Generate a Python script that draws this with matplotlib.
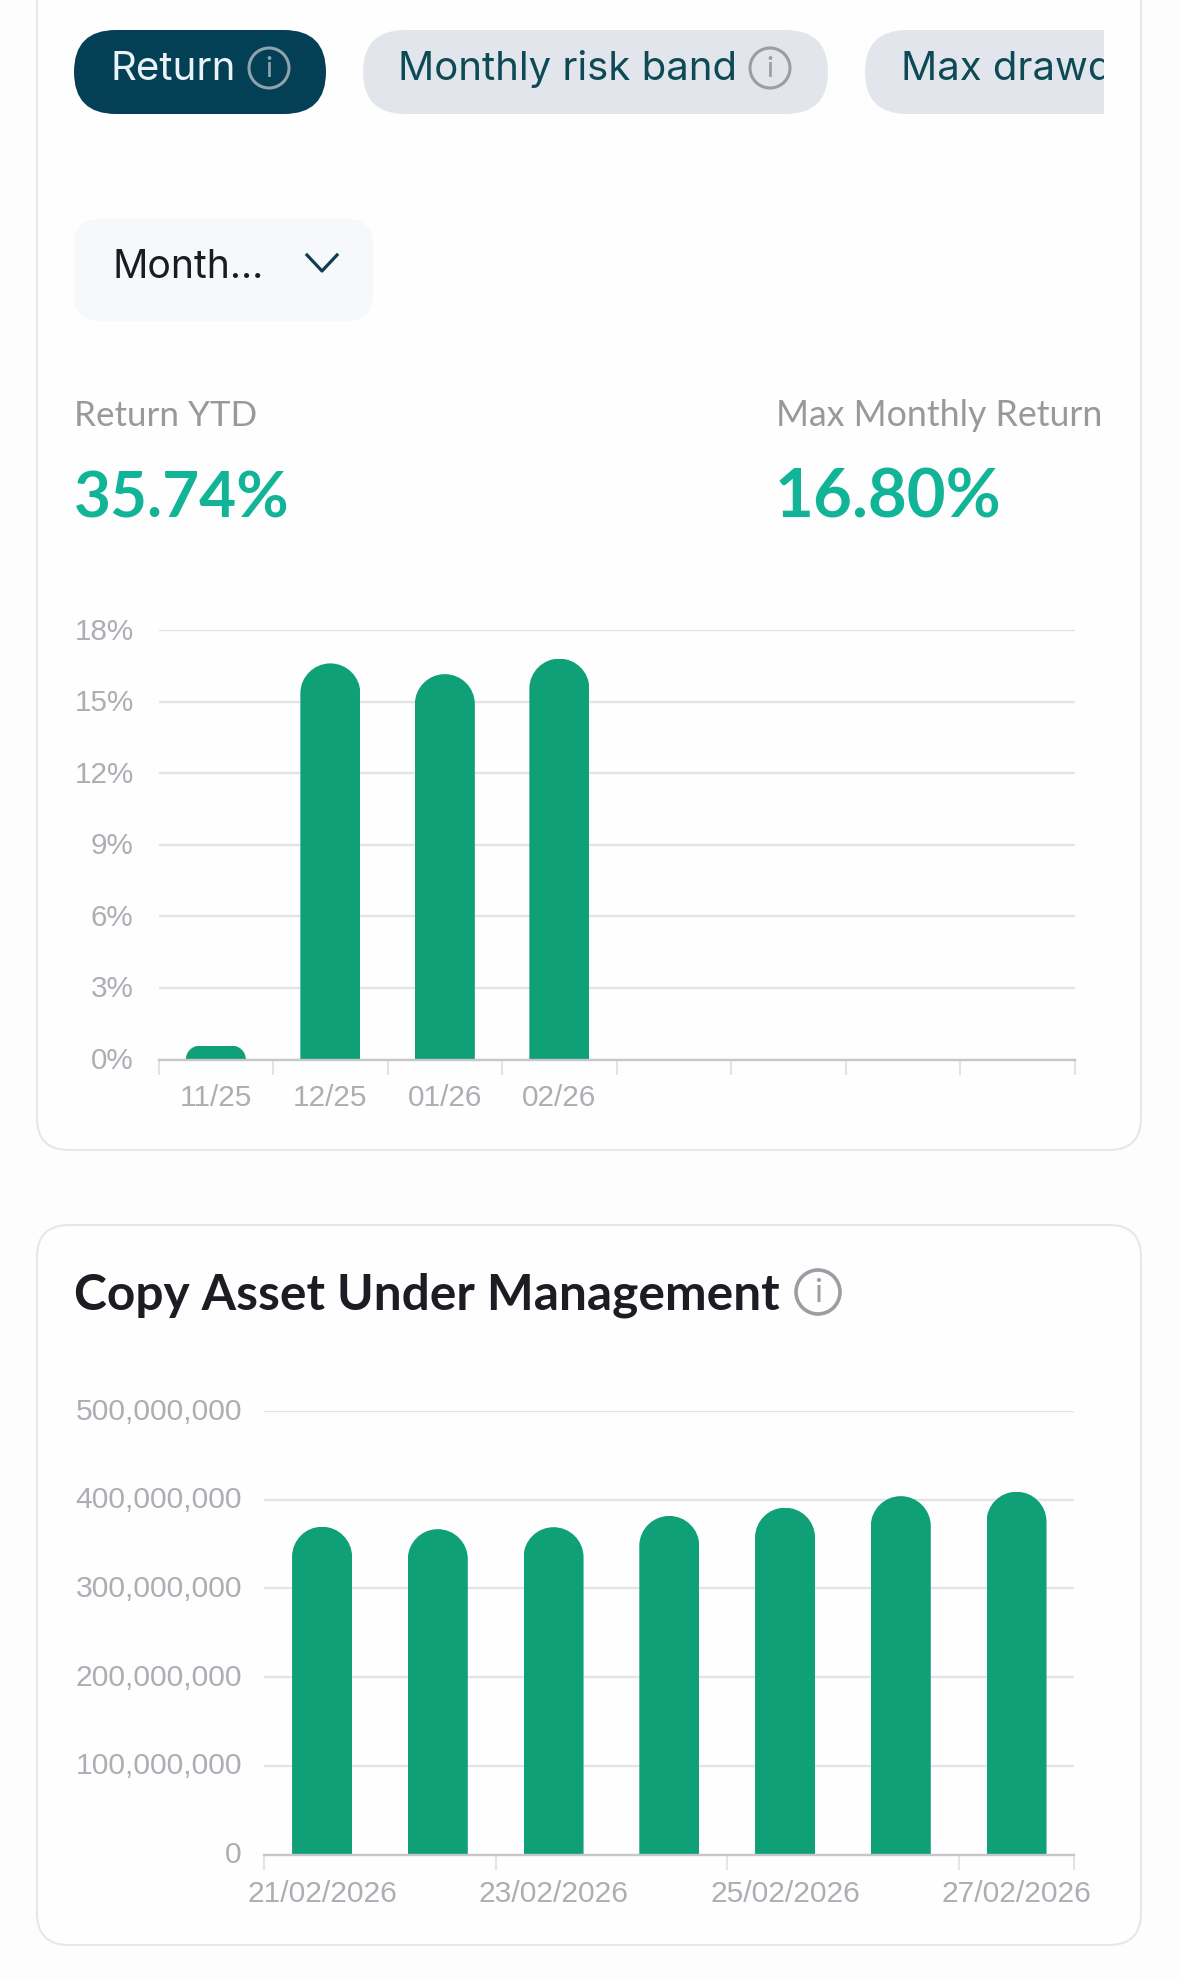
import matplotlib
matplotlib.use("Agg")
import matplotlib.pyplot as plt
from matplotlib.patches import Circle, FancyBboxPatch, Rectangle
from matplotlib.path import Path
from matplotlib.transforms import ScaledTranslation

W, H = 1178, 1982

# data
months = ["11/25", "12/25", "01/26", "02/26"]
monthly_return = [0.58, 16.60, 16.15, 16.80]
return_ticks = [0, 3, 6, 9, 12, 15, 18]
n_month_slots = 8

aum_days = ["21/02/2026", "22/02/2026", "23/02/2026", "24/02/2026",
            "25/02/2026", "26/02/2026", "27/02/2026"]
aum_values = [369.5e6, 366.8e6, 369.0e6, 381.7e6, 391.0e6, 404.0e6, 409.0e6]
aum_ticks = [0, 100e6, 200e6, 300e6, 400e6, 500e6]

GREEN = "#0fa078"
TEAL = "#12b497"
GRID = "#e4e4e8"
AXIS = "#c6c6cb"
TICK = "#aeadb3"
UI_FONT = "Lato"
PILL_FONT = "Inter"
AXIS_FONT = "Liberation Sans"

fig = plt.figure(figsize=(W / 100, H / 100), dpi=100, facecolor="#fdfdfe")

# whole figure in pixels for the app chrome around the charts
bg = fig.add_axes([0, 0, 1, 1], zorder=0)
bg.set_xlim(0, W)
bg.set_ylim(H, 0)
bg.axis("off")


def box(x0, y0, x1, y1, r, fc, ec="none", lw=0):
    p = FancyBboxPatch((x0, y0), x1 - x0, y1 - y0,
                       boxstyle=f"round,pad=0,rounding_size={r}",
                       fc=fc, ec=ec, lw=lw)
    bg.add_patch(p)
    return p


def info(x, y, r, color, lw=2.2, size=21):
    bg.add_patch(Circle((x, y), r, fc="none", ec=color, lw=lw))
    bg.text(x, y + 1, "i", color=color, fontsize=size, family=UI_FONT,
            ha="center", va="center")


# cards
box(37, -60, 1141, 1150, 32, "#fefefe", "#e7e7ea", 1.5)
box(37, 1225, 1141, 1945, 32, "#fefefe", "#e7e7ea", 1.5)

# tabs
box(74, 30, 326, 114, 42, "#033f55")
box(363, 30, 828, 114, 42, "#e2e6ec")
clip = Rectangle((0, 0), 1104, 200, transform=bg.transData)
box(865, 30, 1200, 114, 42, "#e2e6ec").set_clip_path(clip)
bg.text(111, 80, "Return", color="#e9f3f5", fontsize=29, family=PILL_FONT, va="baseline")
info(269, 68, 20, "#8fa3ac")
bg.text(398, 80, "Monthly risk band", color="#0d4a55", fontsize=28.9, family=PILL_FONT, va="baseline")
info(770, 68, 20, "#9b9da3")
t = bg.text(901, 80, "Max drawdown", color="#0d4a55", fontsize=28.9, family=PILL_FONT, va="baseline",
            clip_on=True)
t.set_clip_path(clip)

# dropdown
box(74, 219, 373, 321, 26, "#f7f8fc")
bg.text(113, 278, "Month...", color="#1b1b22", fontsize=28.2, family=PILL_FONT, va="baseline")
bg.plot([307, 322, 337], [255, 271, 255], color="#0d3d4f", lw=2.3)

# headline numbers
bg.text(74, 426, "Return YTD", color="#98989d", fontsize=25.2, family=UI_FONT, va="baseline")
bg.text(1102, 426, "Max Monthly Return", color="#98989d", fontsize=25.7, family=UI_FONT,
        va="baseline", ha="right")
bg.text(74, 517.5, "35.74%", color=TEAL, fontsize=46, family=UI_FONT, weight="bold", va="baseline")
bg.text(775, 517.5, "16.80%", color=TEAL, fontsize=48.3, family=UI_FONT, weight="bold", va="baseline")

# second card title
bg.text(74, 1309, "Copy Asset Under Management", color="#1c1c22", fontsize=35.7,
        family=UI_FONT, weight="bold", va="baseline")
info(818, 1292, 22, "#9b9da3", lw=2.6, size=24)


def chart_axes(x0, y_top, x1, y_bottom):
    ax = fig.add_axes([x0 / W, 1 - y_bottom / H, (x1 - x0) / W, (y_bottom - y_top) / H], zorder=1)
    ax.patch.set_alpha(0)
    for s in ["top", "right", "left"]:
        ax.spines[s].set_visible(False)
    ax.spines["bottom"].set_color(AXIS)
    ax.spines["bottom"].set_linewidth(1.7)
    ax.grid(axis="y", color=GRID, lw=1.7)
    ax.set_axisbelow(True)
    ax.tick_params(axis="y", length=0, labelcolor=TICK)
    ax.tick_params(axis="x", which="major", length=10.5, width=1.5, color=GRID, labelbottom=False)
    ax.tick_params(axis="x", which="minor", length=0, labelcolor=TICK)
    return ax


def nudge_ylabels(ax, px):
    shift = ScaledTranslation(0, px / 100, fig.dpi_scale_trans)
    for lab in ax.get_yticklabels():
        lab.set_transform(lab.get_transform() + shift)


def rounded_bars(ax, xs, values, width_px=60):
    # real bars, clipped to a shape with a round top
    bb = ax.get_position()
    px_x = (ax.get_xlim()[1] - ax.get_xlim()[0]) / (bb.width * W)
    px_y = (ax.get_ylim()[1] - ax.get_ylim()[0]) / (bb.height * H)
    bars = ax.bar(xs, values, width=width_px * px_x, color=GREEN, zorder=2)
    for rect, v in zip(bars, values):
        left, right = rect.get_x(), rect.get_x() + rect.get_width()
        r_px = min(width_px / 2, v / px_y)
        rx, ry = r_px * px_x, r_px * px_y
        k = 0.5523
        verts = [(left, 0), (left, v - ry),
                 (left, v - ry + k * ry), (left + rx - k * rx, v), (left + rx, v),
                 (right - rx, v),
                 (right - rx + k * rx, v), (right, v - ry + k * ry), (right, v - ry),
                 (right, 0), (left, 0)]
        codes = [Path.MOVETO, Path.LINETO, Path.CURVE4, Path.CURVE4, Path.CURVE4,
                 Path.LINETO, Path.CURVE4, Path.CURVE4, Path.CURVE4,
                 Path.LINETO, Path.CLOSEPOLY]
        rect.set_clip_path(Path(verts, codes), ax.transData)
    return bars


# monthly return chart
ax1 = chart_axes(158.6, 630, 1074.6, 1059.5)
ax1.set_xlim(0, n_month_slots)
ax1.set_ylim(0, 18)
ax1.set_yticks(return_ticks)
ax1.set_yticklabels([f"{v}%" for v in return_ticks], fontsize=21.3, family=AXIS_FONT)
ax1.tick_params(axis="y", pad=18)
nudge_ylabels(ax1, 1.5)
ax1.set_xticks(range(n_month_slots + 1))
ax1.set_xticks([i + 0.5 for i in range(len(months))], minor=True)
ax1.set_xticklabels(months, minor=True, fontsize=21.4, family=AXIS_FONT)
ax1.tick_params(axis="x", which="minor", pad=18)
rounded_bars(ax1, [i + 0.5 for i in range(len(months))], monthly_return)

# AUM chart
ax2 = chart_axes(264.2, 1411, 1074.4, 1854.5)
ax2.set_xlim(0, len(aum_days))
ax2.set_ylim(0, 500e6)
ax2.set_yticks(aum_ticks)
ax2.set_yticklabels([f"{int(v):,}" for v in aum_ticks], fontsize=21.7, family=AXIS_FONT)
ax2.tick_params(axis="y", pad=16)
nudge_ylabels(ax2, 2.5)
ax2.set_xticks([0, 2, 4, 6, 7])
ax2.set_xticks([0.5, 2.5, 4.5, 6.5], minor=True)
ax2.set_xticklabels(aum_days[::2], minor=True, fontsize=21.6, family=AXIS_FONT)
ax2.tick_params(axis="x", which="minor", pad=18)
rounded_bars(ax2, [i + 0.5 for i in range(len(aum_days))], aum_values)

fig.savefig("out.png", dpi=100)
